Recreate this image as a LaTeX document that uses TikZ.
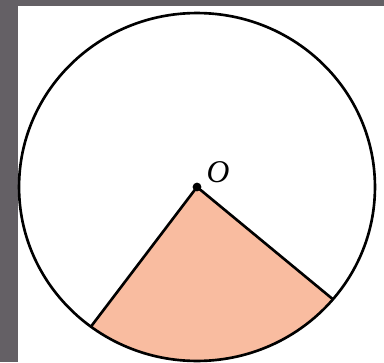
\documentclass[tikz,border=0pt]{standalone}
\usepackage{fontspec}
\usetikzlibrary{calc}

\newfontfamily\labelfont{Liberation Serif}
\definecolor{framegray}{RGB}{100,96,101}
\definecolor{sectorfill}{RGB}{249,188,160}

\tikzset{
  rim/.style={line width=1.5pt, black},
  radius line/.style={line width=1.5pt, black, line cap=round},
  centre dot/.style={circle, fill=black, inner sep=0pt, minimum size=5pt},
}

\begin{document}
\begin{tikzpicture}[x=0.02cm, y=0.02cm]
  % frame and page
  \fill[framegray] (0,0) rectangle (384,362);
  \fill[white] (18,0) rectangle (384,356);
  \useasboundingbox (0,0) rectangle (384,362);

  % centre and sector ends
  \coordinate (O) at (197,175);
  \coordinate (A) at ($(O)+(-126.6:3.56cm and 3.48cm)$);
  \coordinate (B) at ($(O)+(-40.2:3.56cm and 3.48cm)$);

  % shaded sector
  \fill[sectorfill] (O) -- (A)
    arc[start angle=-126.6, end angle=-40.2, x radius=3.56cm, y radius=3.48cm]
    -- cycle;
  \draw[radius line] (A) -- (O) -- (B);

  % the circle
  \draw[rim] (O) ellipse[x radius=3.56cm, y radius=3.48cm];

  \node[centre dot] (dot) at (O) {};
  \node (label) at (218,190) {\labelfont\itshape\fontsize{18}{18}\selectfont O};
\end{tikzpicture}
\end{document}
